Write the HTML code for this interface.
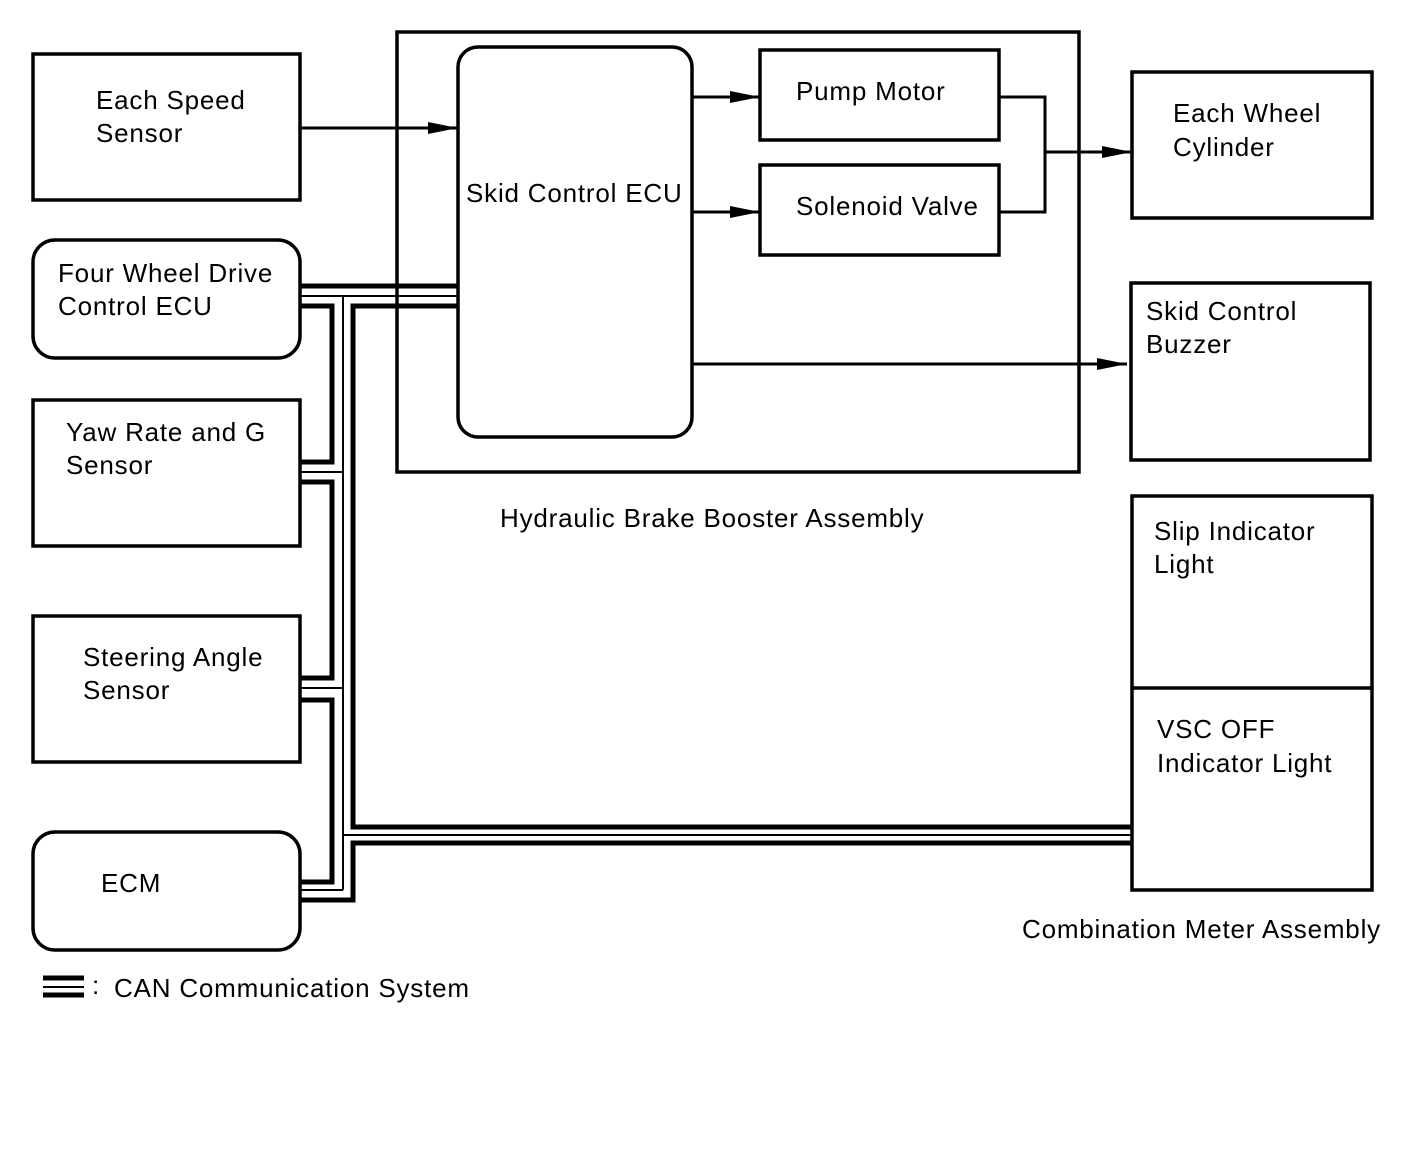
<!DOCTYPE html>
<html><head><meta charset="utf-8"><style>
html,body{margin:0;padding:0;background:#fff;}
svg text{font-family:"Liberation Sans",Arial,sans-serif;font-size:26px;letter-spacing:0.8px;fill:#000;}
</style></head><body>
<svg width="1424" height="1160" viewBox="0 0 1424 1160" xmlns="http://www.w3.org/2000/svg">
<defs><marker id="a" markerWidth="30" markerHeight="12" refX="30" refY="6" orient="auto" markerUnits="userSpaceOnUse"><path d="M0,0 L30,6 L0,12 Z" fill="#000"/></marker></defs>
<g fill="none" stroke="#000" stroke-width="3.5">
<rect x="33" y="54" width="267" height="146"/>
<rect x="33" y="240" width="267" height="118" rx="22"/>
<rect x="33" y="400" width="267" height="146"/>
<rect x="33" y="616" width="267" height="146"/>
<rect x="33" y="832" width="267" height="118" rx="22"/>
<rect x="397" y="32" width="682" height="440"/>
<rect x="458" y="47" width="234" height="390" rx="20"/>
<rect x="760" y="50" width="239" height="90"/>
<rect x="760" y="165" width="239" height="90"/>
<rect x="1132" y="72" width="240" height="146"/>
<rect x="1131" y="283" width="239" height="177"/>
<rect x="1132" y="496" width="240" height="394"/>
<line x1="1132" y1="688" x2="1372" y2="688"/>
<line x1="300" y1="128" x2="458" y2="128" stroke-width="3" marker-end="url(#a)"/>
<line x1="692" y1="97" x2="760" y2="97" stroke-width="3" marker-end="url(#a)"/>
<line x1="692" y1="212" x2="760" y2="212" stroke-width="3" marker-end="url(#a)"/>
<polyline points="999,97 1045,97 1045,212 999,212" stroke-width="3"/>
<line x1="1045" y1="152" x2="1132" y2="152" stroke-width="3" marker-end="url(#a)"/>
<line x1="692" y1="364" x2="1127" y2="364" stroke-width="3" marker-end="url(#a)"/>
</g>
<g fill="none" stroke="#000">
<g stroke-width="5">
<line x1="300" y1="286" x2="458" y2="286"/>
<polyline points="300,306 332,306 332,462 300,462"/>
<polyline points="300,482 332,482 332,678 300,678"/>
<polyline points="300,700 332,700 332,882 300,882"/>
<polyline points="458,306 353,306 353,827 1132,827"/>
<polyline points="1132,843 353,843 353,900 300,900"/>
</g>
<g stroke-width="2">
<line x1="300" y1="296" x2="458" y2="296"/>
<line x1="343" y1="296" x2="343" y2="890"/>
<line x1="300" y1="472" x2="343" y2="472"/>
<line x1="300" y1="688" x2="343" y2="688"/>
<line x1="300" y1="890" x2="343" y2="890"/>
<line x1="343" y1="835" x2="1132" y2="835"/>
</g>
<line x1="43" y1="978" x2="84" y2="978" stroke-width="5"/>
<line x1="43" y1="987" x2="84" y2="987" stroke-width="2"/>
<line x1="43" y1="995" x2="84" y2="995" stroke-width="5"/>
</g>
<text x="96" y="109">Each Speed</text>
<text x="96" y="142">Sensor</text>
<text x="58" y="282">Four Wheel Drive</text>
<text x="58" y="315">Control ECU</text>
<text x="66" y="441">Yaw Rate and G</text>
<text x="66" y="474">Sensor</text>
<text x="83" y="666">Steering Angle</text>
<text x="83" y="699">Sensor</text>
<text x="101" y="892">ECM</text>
<text x="466" y="202">Skid Control ECU</text>
<text x="796" y="100">Pump Motor</text>
<text x="796" y="215">Solenoid Valve</text>
<text x="1173" y="122">Each Wheel</text>
<text x="1173" y="156">Cylinder</text>
<text x="1146" y="320">Skid Control</text>
<text x="1146" y="353">Buzzer</text>
<text x="1154" y="540">Slip Indicator</text>
<text x="1154" y="573">Light</text>
<text x="1157" y="738">VSC OFF</text>
<text x="1157" y="772">Indicator Light</text>
<text x="500" y="527">Hydraulic Brake Booster Assembly</text>
<text x="1022" y="938">Combination Meter Assembly</text>
<text x="92" y="994">:</text>
<text x="114" y="997">CAN Communication System</text>
</svg>
</body></html>
